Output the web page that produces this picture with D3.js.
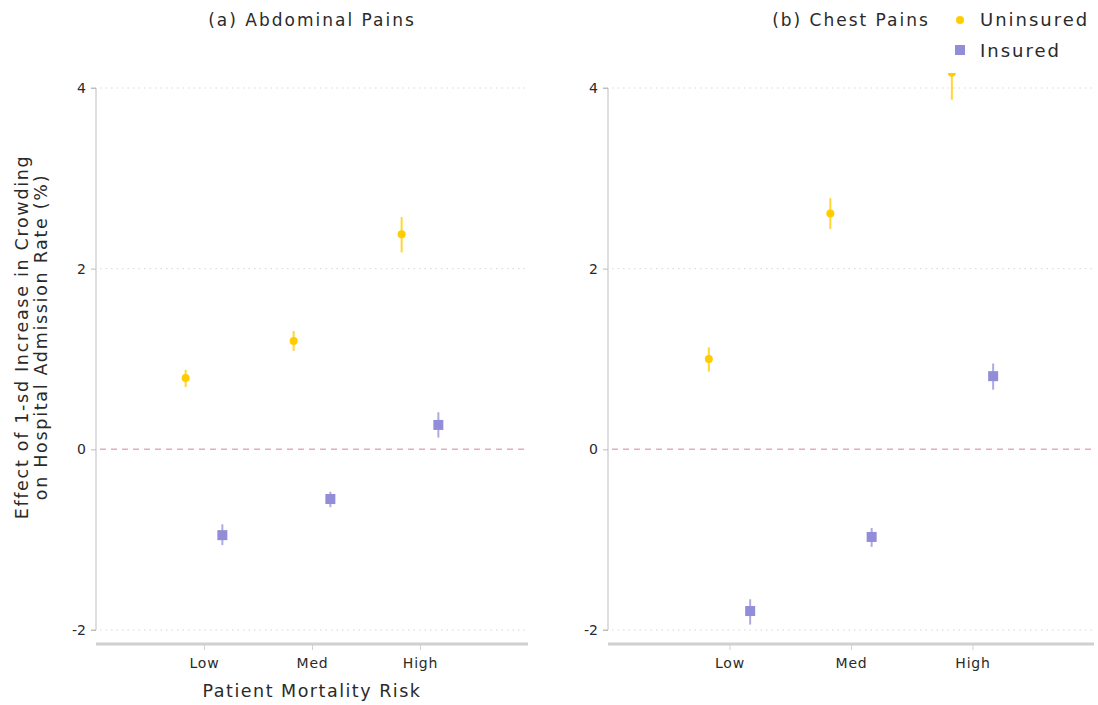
<!DOCTYPE html>
<html>
<head>
<meta charset="utf-8">
<script src="https://cdn.jsdelivr.net/npm/d3@7"></script>
<style>
  body { margin: 0; background: #fff; }
  text { font-family: "DejaVu Sans", sans-serif; fill: #2a2a2a; }
</style>
</head>
<body>
<svg id="chart" width="1098" height="705"></svg>
<script>
// categories on the x axis
const categories = ["Low", "Med", "High"];
const yTicks = [-2, 0, 2, 4];

// (a) Abdominal Pains
const abdUninsured = [0.79, 1.20, 2.38];
const abdUninsuredLo = [0.69, 1.09, 2.18];
const abdUninsuredHi = [0.88, 1.31, 2.57];
const abdInsured = [-0.95, -0.55, 0.27];
const abdInsuredLo = [-1.06, -0.64, 0.13];
const abdInsuredHi = [-0.83, -0.47, 0.41];

// (b) Chest Pains
const chestUninsured = [1.00, 2.61, 4.17];
const chestUninsuredLo = [0.86, 2.44, 3.87];
const chestUninsuredHi = [1.13, 2.78, 4.47];
const chestInsured = [-1.79, -0.97, 0.81];
const chestInsuredLo = [-1.94, -1.08, 0.66];
const chestInsuredHi = [-1.66, -0.87, 0.95];

const uninsColor = "#ffcc00";
const insColor = "#928dd8";

const svg = d3.select("#chart");

const y = d3.scaleLinear().domain([-2, 4]).range([630, 88]);

const panels = [
    { title: "(a) Abdominal Pains", x0: 96, x1: 528, id: "a",
      unins: abdUninsured, uninsLo: abdUninsuredLo, uninsHi: abdUninsuredHi,
      ins: abdInsured, insLo: abdInsuredLo, insHi: abdInsuredHi, xTitle: true },
    { title: "(b) Chest Pains", x0: 608, x1: 1094, id: "b",
      unins: chestUninsured, uninsLo: chestUninsuredLo, uninsHi: chestUninsuredHi,
      ins: chestInsured, insLo: chestInsuredLo, insHi: chestInsuredHi, xTitle: false }
];

const offset = 0.17;

panels.forEach(p => {
    const x = d3.scaleLinear().domain([0, 4]).range([p.x0, p.x1]);
    const g = svg.append("g");

    // clip so points above the top tick get cut like in the original
    svg.append("clipPath").attr("id", "clip-" + p.id)
        .append("rect")
        .attr("x", p.x0).attr("y", 73)
        .attr("width", p.x1 - p.x0).attr("height", 570);

    // gridlines
    g.selectAll(".grid")
        .data(yTicks.filter(t => t !== 0))
        .enter().append("line")
        .attr("x1", p.x0 + 4).attr("x2", p.x1)
        .attr("y1", d => y(d)).attr("y2", d => y(d))
        .attr("stroke", "#d6d6d6").attr("stroke-width", 1)
        .attr("stroke-dasharray", "1.5,4");

    // zero line
    g.append("line")
        .attr("x1", p.x0 + 4).attr("x2", p.x1)
        .attr("y1", y(0)).attr("y2", y(0))
        .attr("stroke", "#e7a9c8").attr("stroke-width", 1.5)
        .attr("stroke-dasharray", "6,5");

    // y axis
    const yAxis = g.append("g")
        .attr("transform", `translate(${p.x0},0)`)
        .call(d3.axisLeft(y).tickValues(yTicks).tickSize(5).tickPadding(5).tickFormat(d => String(d)));
    yAxis.select(".domain").attr("stroke", "#bdbdbd").attr("d", `M-5,${y(4)}H0V${y(-2)}H-5`);
    yAxis.selectAll(".tick line").attr("stroke", "#bdbdbd");
    yAxis.selectAll(".tick text").style("font-size", "14px").attr("fill", "#2a2a2a");

    // x axis
    const xAxis = g.append("g")
        .attr("transform", "translate(0,644)")
        .call(d3.axisBottom(x).tickValues([1, 2, 3]).tickSize(6).tickPadding(8)
            .tickFormat(d => categories[d - 1]));
    xAxis.select(".domain").attr("stroke", "#d0d0d0").attr("stroke-width", 3)
        .attr("d", `M${p.x0},0H${p.x1}`);
    xAxis.selectAll(".tick line").attr("stroke", "#d0d0d0");
    xAxis.selectAll(".tick text").style("font-size", "14px").style("letter-spacing", "0.8px")
        .attr("fill", "#2a2a2a");

    // panel title
    svg.append("text")
        .attr("x", (p.x0 + p.x1) / 2).attr("y", 26)
        .attr("text-anchor", "middle")
        .style("font-size", "17px").style("letter-spacing", "2px")
        .text(p.title);

    if (p.xTitle) {
        svg.append("text")
            .attr("x", (p.x0 + p.x1) / 2).attr("y", 697)
            .attr("text-anchor", "middle")
            .style("font-size", "17.5px").style("letter-spacing", "1.5px")
            .text("Patient Mortality Risk");
    }

    const pts = g.append("g").attr("clip-path", `url(#clip-${p.id})`);

    // uninsured: error bars + circles
    pts.selectAll(".ue")
        .data(categories.map((c, i) => i))
        .enter().append("line")
        .attr("x1", i => x(i + 1 - offset)).attr("x2", i => x(i + 1 - offset))
        .attr("y1", i => y(p.uninsLo[i])).attr("y2", i => y(p.uninsHi[i]))
        .attr("stroke", uninsColor).attr("stroke-opacity", 0.8).attr("stroke-width", 2);
    pts.selectAll(".um")
        .data(categories.map((c, i) => i))
        .enter().append("circle")
        .attr("cx", i => x(i + 1 - offset)).attr("cy", i => y(p.unins[i]))
        .attr("r", 4).attr("fill", uninsColor);

    // insured: error bars + squares
    pts.selectAll(".ie")
        .data(categories.map((c, i) => i))
        .enter().append("line")
        .attr("x1", i => x(i + 1 + offset)).attr("x2", i => x(i + 1 + offset))
        .attr("y1", i => y(p.insLo[i])).attr("y2", i => y(p.insHi[i]))
        .attr("stroke", insColor).attr("stroke-opacity", 0.75).attr("stroke-width", 2);
    pts.selectAll(".im")
        .data(categories.map((c, i) => i))
        .enter().append("rect")
        .attr("x", i => x(i + 1 + offset) - 5).attr("y", i => y(p.ins[i]) - 5)
        .attr("width", 10).attr("height", 10).attr("fill", insColor);
});

// y axis title
svg.append("text")
    .attr("transform", "translate(28,337) rotate(-90)")
    .attr("text-anchor", "middle")
    .style("font-size", "17.5px").style("letter-spacing", "1.7px")
    .text("Effect of 1-sd Increase in Crowding");
svg.append("text")
    .attr("transform", "translate(47,337) rotate(-90)")
    .attr("text-anchor", "middle")
    .style("font-size", "17.5px").style("letter-spacing", "1.7px")
    .text("on Hospital Admission Rate (%)");

// legend
const legend = svg.append("g");
legend.append("circle").attr("cx", 960).attr("cy", 20).attr("r", 4).attr("fill", uninsColor);
legend.append("text").attr("x", 980).attr("y", 26)
    .style("font-size", "18px").style("letter-spacing", "2px").text("Uninsured");
legend.append("rect").attr("x", 955).attr("y", 45).attr("width", 10).attr("height", 10).attr("fill", insColor);
legend.append("text").attr("x", 980).attr("y", 57)
    .style("font-size", "18px").style("letter-spacing", "2px").text("Insured");
</script>
</body>
</html>
